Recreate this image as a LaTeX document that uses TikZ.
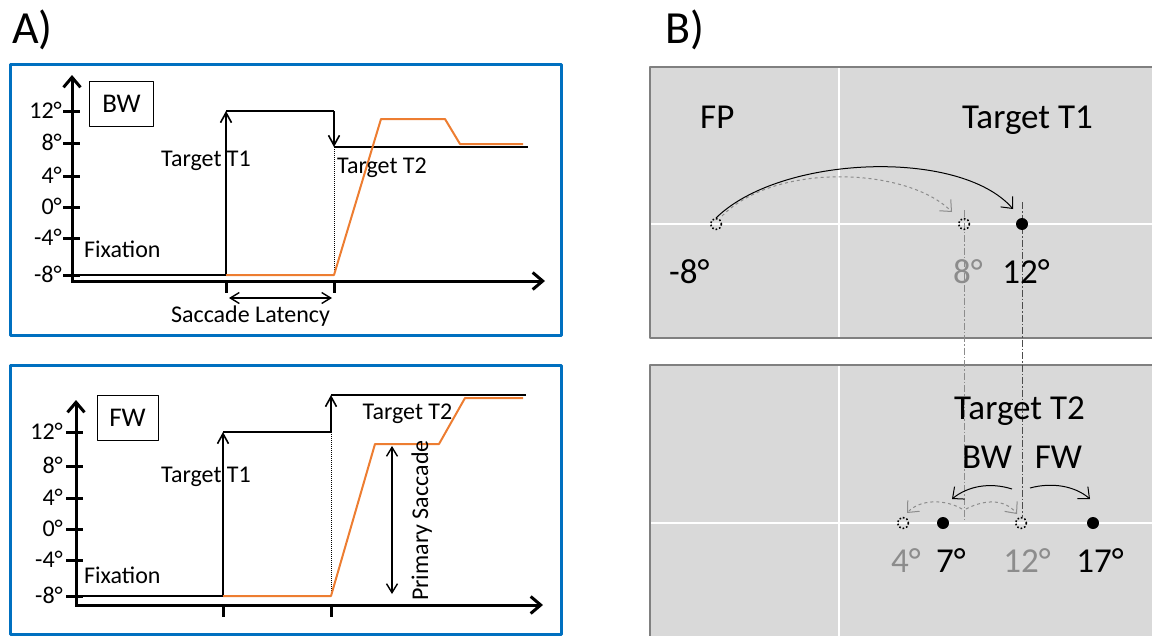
\documentclass[tikz,border=0pt]{standalone}
\usepackage{fontspec}
\setmainfont{Carlito}
\usetikzlibrary{arrows.meta,positioning}
\definecolor{boxblue}{RGB}{0,112,192}
\definecolor{eyeorange}{RGB}{237,125,49}
\definecolor{panelgray}{RGB}{217,217,217}
\definecolor{screenedge}{RGB}{128,128,128}
\definecolor{oldgray}{RGB}{140,140,140}

\begin{document}
\begin{tikzpicture}[x=1pt,y=-1pt,line join=round,
  bluebox/.style={draw=boxblue,line width=3pt},
  axis/.style={line width=3pt,line join=miter,{Straight Barb[length=10pt,width=17pt]}-{Straight Barb[length=10pt,width=17pt]}},
  tickmark/.style={line width=3pt},
  sig/.style={line width=1.6pt},
  sigarrow/.style={sig,-{Straight Barb[length=10pt,width=11pt]}},
  eye/.style={draw=eyeorange,line width=2pt},
  lbl/.style={font=\fontsize{24}{28}\selectfont,inner sep=0pt},
  condbox/.style={draw,line width=1pt,minimum width=64pt,minimum height=45pt,inner sep=0pt,font=\fontsize{27}{30}\selectfont},
  screen/.style={fill=panelgray,draw=screenedge,line width=2.5pt},
  meridian/.style={white,line width=1.5pt},
  bigl/.style={font=\fontsize{35}{40}\selectfont,inner sep=0pt},
  oldpos/.style={dotted,line width=1.6pt},
  saccarc/.style={line width=1pt,-{Straight Barb[length=9pt,width=16pt]}},
  oldarc/.style={saccarc,dashed,oldgray},
  guide/.style={line width=1pt,dash pattern=on 7pt off 2pt on 1.5pt off 2pt}]
  \useasboundingbox (0,0) rectangle (1152,635);

  % panel letters
  \node[anchor=base west,inner sep=0pt,font=\fontsize{46}{50}\selectfont] (labA) at (12,43) {A)};
  \node[anchor=base west,inner sep=0pt,font=\fontsize{46}{50}\selectfont] (labB) at (665,43) {B)};

  % ---------- A) backward step ----------
  \draw[bluebox] (10,64) rectangle (561,335);
  \draw[axis] (72,75) -- (72,281) -- (545,281);
  \foreach \v/\yy in {12/111,8/143,4/176,0/207,-4/238,-8/275}{
    \draw[tickmark] (63,\yy) -- (80,\yy);
    \node[lbl,anchor=east] at (62,\yy-1) {\v°};
  }
  \node[condbox] (bwbox) at (121.5,103.5) {BW};

  \coordinate (fixA) at (72,275);
  \coordinate (onA) at (226,275);
  \coordinate (t1A) at (226,111);
  \coordinate (stepA) at (334,111);
  \coordinate (t2A) at (334,147);
  \coordinate (endA) at (528,147);
  \coordinate (latA) at (334,275);

  \draw[sig] (fixA) -- (onA);
  \draw[sigarrow] (onA) -- (t1A);
  \draw[sig] (t1A) -- (stepA);
  \draw[sigarrow] (stepA) -- (t2A);
  \draw[sig] (t2A) -- (endA);
  \draw[densely dotted,line width=1pt] (t2A) -- (latA);
  \draw[eye] (onA) -- (latA) -- (381,119) -- (445,119) -- (460,144) -- (523,144);

  \draw[tickmark] (226,281) -- (226,293);
  \draw[tickmark] (334,281) -- (334,293);
  \draw[line width=1.4pt,{Straight Barb[length=9pt,width=11pt]}-{Straight Barb[length=9pt,width=11pt]}] (229,298) -- (332,298);

  \node[lbl,anchor=base] (tgt1A) at (206,166) {Target T1};
  \node[lbl,anchor=base] (tgt2A) at (382,173) {Target T2};
  \node[lbl,anchor=base west] (fixlA) at (84,257) {Fixation};
  \node[lbl,anchor=base] (latlA) at (250.5,322) {Saccade Latency};

  % ---------- A) forward step ----------
  \draw[bluebox] (10,365) rectangle (561,634);
  \draw[axis] (76,400) -- (76,605) -- (543,605);
  \foreach \v/\yy in {12/432,8/466,4/498,0/529,-4/560,-8/596}{
    \draw[tickmark] (66,\yy) -- (83,\yy);
    \node[lbl,anchor=east] at (63,\yy-1) {\v°};
  }
  \node[condbox,minimum width=61pt] (fwbox) at (127.5,418) {FW};

  \coordinate (fixF) at (76,596);
  \coordinate (onF) at (223,596);
  \coordinate (t1F) at (223,432);
  \coordinate (stepF) at (331,432);
  \coordinate (t2F) at (331,395);
  \coordinate (endF) at (526,395);
  \coordinate (latF) at (331,596);

  \draw[sig] (fixF) -- (onF);
  \draw[sigarrow] (onF) -- (t1F);
  \draw[sig] (t1F) -- (stepF);
  \draw[sigarrow] (stepF) -- (t2F);
  \draw[sig] (t2F) -- (endF);
  \draw[densely dotted,line width=1pt] (stepF) -- (latF);
  \draw[eye] (onF) -- (latF) -- (375,444) -- (439,444) -- (465,398) -- (523,398);

  \draw[tickmark] (223,605) -- (223,617);
  \draw[tickmark] (331,605) -- (331,617);
  \draw[line width=1.4pt,{Straight Barb[length=9pt,width=11pt]}-{Straight Barb[length=9pt,width=11pt]}] (392,446) -- (392,594);

  \node[lbl,anchor=base] (tgt1F) at (206,482) {Target T1};
  \node[lbl,anchor=base] (tgt2F) at (407.5,419) {Target T2};
  \node[lbl,anchor=base west] (fixlF) at (84,583) {Fixation};
  \node[lbl,anchor=base west,rotate=90] (primF) at (428,601) {Primary Saccade};

  % ---------- B) screens ----------
  \draw[screen] (650,67) rectangle (1165,338);
  \draw[meridian] (839,68) -- (839,337);
  \draw[meridian] (651,224) -- (1165,224);
  \draw[screen] (650,365) rectangle (1165,645);
  \draw[meridian] (839,366) -- (839,645);
  \draw[meridian] (651,523) -- (1165,523);

  % projection lines between screens
  \draw[guide,oldgray] (964,210) -- (964,520);
  \draw[guide,black!70] (1022,202) -- (1022,517);

  % first screen: fixation to T1
  \draw[oldpos] (716,224) circle (5.5);
  \draw[oldpos] (964,224) circle (5.5);
  \fill (1022,224) circle (6);
  \draw[oldarc] (722,216) .. controls (775,162) and (907,167) .. (952,212);
  \draw[saccarc] (716,218) .. controls (780,155) and (960,148) .. (1013,209);

  \node[bigl,anchor=base west] (fpl) at (700,128) {FP};
  \node[bigl,anchor=base] (t1l) at (1027.5,128) {Target T1};
  \node[bigl,anchor=base west] (m8l) at (669,283) {-8°};
  \node[bigl,anchor=base,oldgray] (p8l) at (968,283) {8°};
  \node[bigl,anchor=base] (p12l) at (1026,283) {12°};

  % second screen: step to T2
  \draw[oldpos] (903,523) circle (5.5);
  \fill (943,523) circle (6);
  \draw[oldpos] (1021,523) circle (5.5);
  \fill (1093,523) circle (6);
  \draw[oldarc] (962,509) .. controls (945,499) and (920,499) .. (907,513);
  \draw[oldarc] (966,509) .. controls (985,499) and (1005,499) .. (1017,514);
  \draw[saccarc] (1012,489) .. controls (990,482) and (968,486) .. (952,499);
  \draw[saccarc] (1030,488) .. controls (1052,482) and (1075,486) .. (1090,499);

  \node[bigl,anchor=base] (t2l) at (1019.5,419) {Target T2};
  \node[bigl,anchor=base] (bwl) at (987,468) {BW};
  \node[bigl,anchor=base] (fwl) at (1058.5,468) {FW};
  \node[bigl,anchor=base,oldgray] (p4l) at (906,572) {4°};
  \node[bigl,anchor=base] (p7l) at (951,572) {7°};
  \node[bigl,anchor=base,oldgray] (q12l) at (1027,572) {12°};
  \node[bigl,anchor=base] (p17l) at (1100,572) {17°};
\end{tikzpicture}
\end{document}
